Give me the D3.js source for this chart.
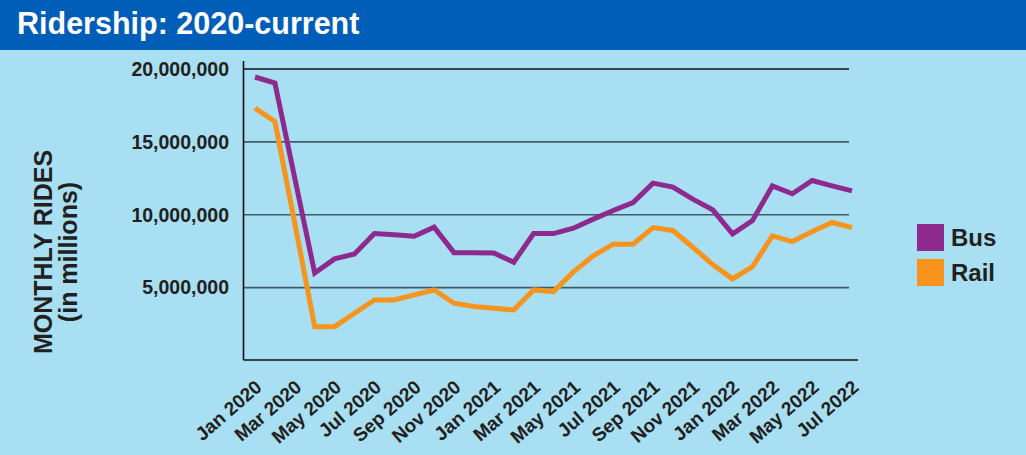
<!DOCTYPE html>
<html>
<head>
<meta charset="utf-8">
<script src="https://cdn.jsdelivr.net/npm/d3@7"></script>
<style>
  html, body { margin: 0; padding: 0; background: #a8dff2; }
  svg { display: block; font-family: "Liberation Sans", Arial, Helvetica, sans-serif; }
</style>
</head>
<body>
<div id="chart"></div>
<script>
const months = ["Jan 2020","Feb 2020","Mar 2020","Apr 2020","May 2020","Jun 2020","Jul 2020","Aug 2020","Sep 2020","Oct 2020","Nov 2020","Dec 2020",
  "Jan 2021","Feb 2021","Mar 2021","Apr 2021","May 2021","Jun 2021","Jul 2021","Aug 2021","Sep 2021","Oct 2021","Nov 2021","Dec 2021",
  "Jan 2022","Feb 2022","Mar 2022","Apr 2022","May 2022","Jun 2022","Jul 2022"];

// monthly rides, millions
const bus = [19.45, 19.04, 12.5, 6.0, 6.97, 7.31, 8.71, 8.62, 8.53, 9.15, 7.40, 7.40,
  7.38, 6.74, 8.71, 8.71, 9.08, 9.70, 10.29, 10.84, 12.17, 11.9, 11.07, 10.34,
  8.69, 9.60, 11.98, 11.44, 12.35, 11.98, 11.64];
const rail = [17.32, 16.4, 9.4, 2.32, 2.32, 3.24, 4.15, 4.15, 4.5, 4.84, 3.93, 3.7,
  3.58, 3.47, 4.84, 4.73, 6.08, 7.18, 7.98, 7.98, 9.12, 8.92, 7.77, 6.58,
  5.6, 6.44, 8.55, 8.16, 8.85, 9.47, 9.12];

const yTicks = [5000000, 10000000, 15000000, 20000000];
const tickMonths = months.filter((m, i) => i % 2 === 0);

const series = [
  { name: "Bus", values: bus, color: "#8e2a8e" },
  { name: "Rail", values: rail, color: "#f7941d" }
];

const width = 1026;
const height = 455;

const svg = d3.select('#chart')
  .append('svg')
  .attr('width', width)
  .attr('height', height);

svg.append('rect').attr('width', width).attr('height', height).attr('fill', '#a8dff2');

// header
svg.append('rect').attr('width', width).attr('height', 50).attr('fill', '#005eb8');
svg.append('text')
  .attr('x', 17)
  .attr('y', 34)
  .attr('fill', '#fff')
  .attr('font-size', 30.5)
  .attr('font-weight', 'bold')
  .text('Ridership: 2020-current');

const x = d3.scalePoint().domain(months).range([255, 852]);
const y = d3.scaleLinear().domain([0, 20000000]).range([360.5, 69]);

// gridlines
svg.append('g')
  .selectAll('line')
  .data(yTicks)
  .enter().append('line')
  .attr('x1', 243.5)
  .attr('x2', 849)
  .attr('y1', d => y(d))
  .attr('y2', d => y(d))
  .attr('stroke', d => d === 20000000 ? '#111' : '#3f5d69')
  .attr('stroke-width', 1.6);

// axis lines
svg.append('line')
  .attr('x1', 243.5).attr('x2', 243.5)
  .attr('y1', 61).attr('y2', 360)
  .attr('stroke', '#111').attr('stroke-width', 1.6);
svg.append('line')
  .attr('x1', 243.5).attr('x2', 858)
  .attr('y1', 360).attr('y2', 360)
  .attr('stroke', '#111').attr('stroke-width', 1.6);

// y labels
const yAxis = svg.append('g')
  .attr('transform', 'translate(229,0)')
  .call(d3.axisLeft(y).tickValues(yTicks).tickSize(0).tickPadding(0).tickFormat(d3.format(',')));
yAxis.select('.domain').remove();
yAxis.selectAll('text')
  .attr('font-size', 19.5)
  .attr('font-weight', 'bold')
  .attr('font-family', '"Liberation Sans", Arial, sans-serif')
  .attr('fill', '#231f20');

// x labels
svg.append('g')
  .selectAll('text')
  .data(tickMonths)
  .enter().append('text')
  .attr('transform', d => `translate(${x(d) + 8},${389}) rotate(-41)`)
  .attr('text-anchor', 'end')
  .attr('font-size', 19)
  .attr('font-weight', 'bold')
  .attr('fill', '#231f20')
  .text(d => d);

// y title
const yTitle = svg.append('g').attr('transform', 'translate(0,252)');
yTitle.append('text')
  .attr('transform', 'translate(52,0) rotate(-90)')
  .attr('text-anchor', 'middle')
  .attr('font-size', 25)
  .attr('font-weight', 'bold')
  .attr('fill', '#231f20')
  .text('MONTHLY RIDES');
yTitle.append('text')
  .attr('transform', 'translate(77,0) rotate(-90)')
  .attr('text-anchor', 'middle')
  .attr('font-size', 25)
  .attr('font-weight', 'bold')
  .attr('fill', '#231f20')
  .text('(in millions)');

// lines
const line = d3.line()
  .x((d, i) => x(months[i]))
  .y(d => y(d * 1000000));

svg.append('g')
  .selectAll('path')
  .data(series)
  .enter().append('path')
  .attr('fill', 'none')
  .attr('stroke', d => d.color)
  .attr('stroke-width', 5)
  .attr('stroke-linejoin', 'miter')
  .attr('d', d => line(d.values));

// legend
const legend = svg.append('g')
  .selectAll('g')
  .data(series)
  .enter().append('g')
  .attr('transform', (d, i) => `translate(917,${224 + i * 35})`);
legend.append('rect')
  .attr('width', 27)
  .attr('height', 27)
  .attr('fill', d => d.color);
legend.append('text')
  .attr('x', 34)
  .attr('y', 22)
  .attr('font-size', 24)
  .attr('font-weight', 'bold')
  .attr('fill', '#231f20')
  .text(d => d.name);
</script>
</body>
</html>
